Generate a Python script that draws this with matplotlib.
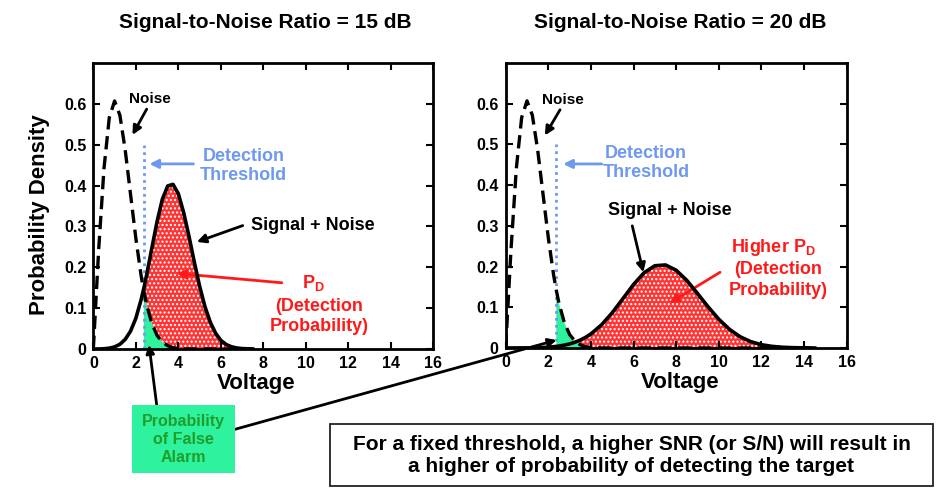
import numpy as np
import matplotlib
matplotlib.use("Agg")
import matplotlib.pyplot as plt
from matplotlib.patches import Rectangle

plt.rcParams['font.family'] = ['Liberation Sans', 'DejaVu Sans']
plt.rcParams['font.weight'] = 'bold'
plt.rcParams['mathtext.fontset'] = 'custom'
plt.rcParams['mathtext.rm'] = 'Liberation Sans:bold'
plt.rcParams['mathtext.it'] = 'Liberation Sans:bold'
plt.rcParams['mathtext.bf'] = 'Liberation Sans:bold'

# --- data ---
threshold = 2.375

# 15 dB panel
v15 = [0, 0.25, 0.5, 0.75, 1.0, 1.25, 1.5, 1.75, 2.0, 2.25, 2.375, 2.5, 2.75,
       3.0, 3.25, 3.5, 3.75, 4.0, 4.25, 4.5, 4.75, 5.0, 5.25, 5.5, 5.75, 6.0,
       6.25, 6.5, 6.75, 7.0, 7.5]
noise15 = [0, 0.242, 0.441, 0.566, 0.607, 0.572, 0.487, 0.379, 0.271, 0.179,
           0.142, 0.110, 0.063, 0.033, 0.017, 0.008, 0.003, 0.001, 0, 0, 0, 0,
           0, 0, 0, 0, 0, 0, 0, 0, 0]
signal15 = [0, 0, 0.0005, 0.002, 0.005, 0.0115, 0.0235, 0.0435, 0.075, 0.121,
            0.148, 0.179, 0.246, 0.312, 0.367, 0.399, 0.403, 0.380, 0.334,
            0.276, 0.213, 0.154, 0.104, 0.066, 0.039, 0.021, 0.011, 0.0054,
            0.0025, 0.001, 0]

# 20 dB panel
v20 = [0, 0.25, 0.5, 0.75, 1.0, 1.25, 1.5, 1.75, 2.0, 2.25, 2.375, 2.5, 2.75,
       3.0, 3.25, 3.5, 3.75, 4.0, 4.5, 5.0, 5.5, 6.0, 6.5, 7.0, 7.5, 8.0, 8.5,
       9.0, 9.5, 10.0, 10.5, 11.0, 11.5, 12.0, 12.5, 13.0, 13.5, 14.0, 14.5]
noise20 = [0, 0.242, 0.441, 0.566, 0.607, 0.572, 0.487, 0.379, 0.271, 0.179,
           0.142, 0.110, 0.063, 0.033, 0.017, 0.008, 0.003, 0.001, 0, 0, 0, 0,
           0, 0, 0, 0, 0, 0, 0, 0, 0, 0, 0, 0, 0, 0, 0, 0, 0]
signal20 = [0, 0.0001, 0.0002, 0.0003, 0.0003, 0.0005, 0.0008, 0.0013, 0.0021,
            0.0032, 0.0039, 0.0048, 0.0070, 0.0100, 0.0141, 0.0194, 0.0262,
            0.0346, 0.057, 0.0865, 0.121, 0.156, 0.185, 0.202, 0.204, 0.191,
            0.166, 0.134, 0.101, 0.0707, 0.0459, 0.0277, 0.0156, 0.0081,
            0.0040, 0.0018, 0.0008, 0.0003, 0]

x_ticks = [0, 2, 4, 6, 8, 10, 12, 14, 16]
y_ticks = [0, 0.1, 0.2, 0.3, 0.4, 0.5, 0.6]
y_ticklabels = ['0', '0.1', '0.2', '0.3', '0.4', '0.5', '0.6']

blue = '#6f98f0'
red = '#ff1a1a'
green = '#2ef29e'

fig = plt.figure(figsize=(9.38, 4.9), dpi=100)
ax1 = fig.add_axes([0.0995, 0.2878, 0.3625, 0.5837])
ax2 = fig.add_axes([0.5391, 0.2898, 0.3635, 0.5817])


def draw_panel(ax, v, noise, signal):
    v = np.array(v)
    noise = np.array(noise)
    signal = np.array(signal)
    past = v >= threshold
    ax.fill_between(v, 0, noise, where=past, facecolor=green, linewidth=0,
                    zorder=1)
    ax.fill_between(v, noise, signal, where=past & (signal >= noise),
                    interpolate=True, facecolor='#ff3535', edgecolor='white',
                    hatch='....', linewidth=0, zorder=1)
    ax.vlines(threshold, 0, 0.5, colors=blue, linestyles=(0, (1, 1.5)),
              linewidth=2, zorder=2)
    ax.plot(v, noise, color='black', lw=2.4, ls=(0, (4, 2)), zorder=3)
    ax.plot(v, signal, color='black', lw=2.6, zorder=4)
    ax.set_xlim(0, 16)
    ax.set_ylim(0, 0.7)
    ax.set_xticks(x_ticks)
    ax.set_yticks(y_ticks)
    ax.set_yticklabels(y_ticklabels)
    ax.tick_params(direction='in', top=True, right=True, length=5, width=1.5,
                   labelsize=11.5, pad=5)
    for s in ax.spines.values():
        s.set_linewidth(2)
    ax.set_xlabel('Voltage', fontsize=16, fontweight='bold')


def arrow(ax, tail, head, color='black'):
    ax.annotate('', xy=head, xytext=tail,
                arrowprops=dict(arrowstyle='-|>', color=color, lw=2,
                                mutation_scale=13, shrinkA=0, shrinkB=0))


draw_panel(ax1, v15, noise15, signal15)
draw_panel(ax2, v20, noise20, signal20)

ax1.set_ylabel('Probability Density', fontsize=16, fontweight='bold')
ax1.yaxis.set_label_coords(-0.128, 0.47)
ax1.xaxis.set_label_coords(0.48, -0.085)
ax2.xaxis.set_label_coords(0.511, -0.085)

fig.text(265 / 938, 1 - 22 / 490, 'Signal-to-Noise Ratio = 15 dB',
         fontsize=15, ha='center', va='center')
fig.text(680 / 938, 1 - 22 / 490, 'Signal-to-Noise Ratio = 20 dB',
         fontsize=15, ha='center', va='center')

# left panel annotations
ax1.text(2.67, 0.612, 'Noise', fontsize=11, ha='center', va='center')
arrow(ax1, (2.51, 0.587), (1.84, 0.524))
ax1.text(7.06, 0.447, 'Detection\nThreshold', fontsize=13, color=blue,
         ha='center', va='center', linespacing=1.15)
arrow(ax1, (4.71, 0.453), (2.64, 0.453), blue)
ax1.text(10.31, 0.302, 'Signal + Noise', fontsize=13, ha='center',
         va='center')
arrow(ax1, (7.03, 0.302), (4.87, 0.262))
ax1.text(10.34, 0.162, r'$\mathrm{P_D}$', fontsize=13, color=red,
         ha='center', va='center')
ax1.text(10.62, 0.103, '(Detection', fontsize=13, color=red, ha='center',
         va='center')
ax1.text(10.62, 0.054, 'Probability)', fontsize=13, color=red, ha='center',
         va='center')
arrow(ax1, (8.87, 0.162), (3.92, 0.185), red)

# right panel annotations
ax2.text(2.70, 0.609, 'Noise', fontsize=11, ha='center', va='center')
arrow(ax2, (2.55, 0.585), (1.84, 0.522))
ax2.text(6.59, 0.454, 'Detection\nThreshold', fontsize=13, color=blue,
         ha='center', va='center', linespacing=1.15)
arrow(ax2, (4.51, 0.452), (2.70, 0.452), blue)
ax2.text(7.71, 0.337, 'Signal + Noise', fontsize=13, ha='center',
         va='center')
arrow(ax2, (5.94, 0.300), (6.46, 0.186))
ax2.text(12.55, 0.247, r'Higher $\mathrm{P_D}$', fontsize=13, color=red,
         ha='center', va='center')
ax2.text(12.78, 0.193, '(Detection', fontsize=13, color=red, ha='center',
         va='center')
ax2.text(12.80, 0.141, 'Probability)', fontsize=13, color=red, ha='center',
         va='center')
arrow(ax2, (10.06, 0.186), (7.68, 0.110), red)

# false alarm box and its pointers
fig.add_artist(Rectangle((131.7 / 938, 17.3 / 490), 103.3 / 938, 67.7 / 490,
                         transform=fig.transFigure, facecolor=green,
                         edgecolor='none'))
fig.text(183.3 / 938, 1 - 439.3 / 490, 'Probability\nof False\nAlarm',
         fontsize=11.5, color='#1f9e2a', ha='center', va='center',
         linespacing=1.25)
for ax, tip, tail in [(ax1, (2.62, 0.01), (156.7, 85)),
                      (ax2, (2.39, 0.0195), (235, 60.7))]:
    ax.annotate('', xy=tip, xytext=tail, textcoords='figure pixels',
                annotation_clip=False,
                arrowprops=dict(arrowstyle='-|>', color='black', lw=2,
                                mutation_scale=12, shrinkA=0, shrinkB=0))

# conclusion box
fig.add_artist(Rectangle((330 / 938, 4 / 490), 603 / 938, 62 / 490,
                         transform=fig.transFigure, facecolor='white',
                         edgecolor='#222222', linewidth=1.3))
fig.text(631.5 / 938, 1 - 456 / 490,
         'For a fixed threshold, a higher SNR (or S/N) will result in\n'
         'a higher of probability of detecting the target',
         fontsize=15, ha='center', va='center', linespacing=1.2)

fig.savefig('out.png', dpi=100)
